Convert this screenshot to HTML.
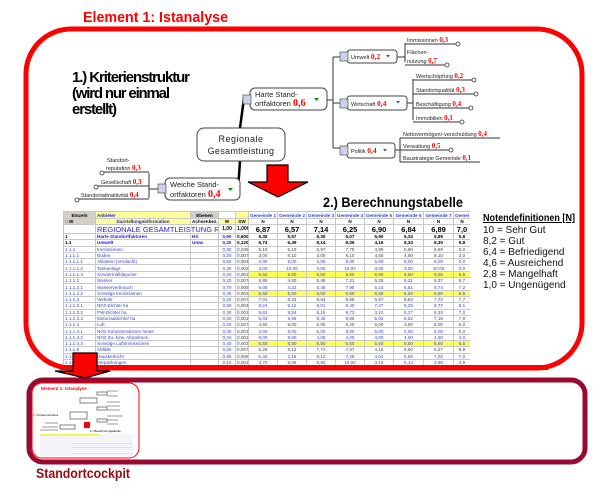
<!DOCTYPE html>
<html><head><meta charset="utf-8"><style>
html,body{margin:0;padding:0;background:#fff;width:610px;height:501px;overflow:hidden}
#wrap{position:relative;width:610px;height:501px}
svg{position:absolute;left:0;top:0}
#tbl{position:absolute;left:63px;top:211px;width:407px;height:154px;overflow:hidden}
table{border-collapse:collapse;table-layout:fixed;width:407px;font-family:"Liberation Sans",sans-serif;font-size:4.6px;line-height:5px}
td{border:0.5px solid #c8c8c8;padding:0 1px;height:5.3px;white-space:nowrap;overflow:hidden;color:#3344cc;text-align:center}
td.l{text-align:left}
tr.h1 td{height:6px}
tr.h2 td{height:5px}
tr.rg td{height:8px;font-size:7.5px;font-weight:bold;color:#000}
tr.b td{font-weight:bold;color:#000}
tr.b td.l,tr.rg td.l{color:#22c}
tr.y td.g{background:#ffff55}
td.g{border-left:1px solid #666}
.gy{background:#d4d0c8;color:#000}
.yl{background:#ffff99}
</style></head><body><div id="wrap">
<svg width="610" height="501" viewBox="0 0 610 501" font-family="Liberation Sans, sans-serif">
<rect x="26" y="29" width="556" height="339" rx="45" fill="#fff" stroke="#ff0000" stroke-width="5"/>
<text x="83" y="22" font-size="15" font-weight="bold" fill="#ff0000" textLength="145" lengthAdjust="spacingAndGlyphs">Element 1: Istanalyse</text>
<text font-size="15" font-weight="bold" fill="#000" lengthAdjust="spacingAndGlyphs">
<tspan x="72" y="82" textLength="118">1.) Kriterienstruktur</tspan>
<tspan x="72" y="98" textLength="98">(wird nur einmal</tspan>
<tspan x="72" y="114" textLength="45">erstellt)</tspan></text>
<text x="323" y="207" font-size="14" font-weight="bold" fill="#000" textLength="140" lengthAdjust="spacingAndGlyphs">2.) Berechnungstabelle</text>

<g stroke="#000" fill="none">
<line x1="240" y1="128" x2="244" y2="98" stroke-width="2.5"/>
<line x1="240" y1="161" x2="238" y2="190" stroke-width="2.5"/>
<g stroke-width="1" stroke="#333">
<path d="M327 100 H333 M333 57 V148 M333 57 H340 M333 103 H340 M333 148 H340"/>
<path d="M397 57 H405 M405 43 V62 M405 44 H458 M405 65 H447"/>
<path d="M407 103 H413 M413 79 V120 M413 80 H474 M413 94 H476 M413 108 H471 M413 122 H462"/>
<path d="M395 150 H400 M400 138 V162 M400 138 H500 M400 150 H451 M400 162 H480"/>
<path d="M158 189 H149 M149 173 V198 M149 172 H102 M149 186 H96 M149 199 H77"/>
</g></g>
<g fill="#fff" stroke="#333" stroke-width="0.8">
<circle cx="458" cy="44" r="2"/><circle cx="447" cy="65" r="2"/>
<circle cx="474" cy="80" r="2"/><circle cx="476" cy="94" r="2"/><circle cx="471" cy="108" r="2"/><circle cx="462" cy="122" r="2"/>
<circle cx="451" cy="150" r="2"/>
<circle cx="102" cy="173" r="2"/><circle cx="96" cy="187" r="2"/><circle cx="77" cy="200" r="2"/>
</g>
<g fill="#fff" stroke="#444" stroke-width="1">
<rect x="197" y="128" width="88" height="33" rx="7"/>
<rect x="250" y="88" width="77" height="22" rx="5"/>
<rect x="165" y="178" width="75" height="22" rx="5"/>
<rect x="347" y="50" width="50" height="13" rx="3"/>
<rect x="347" y="96" width="60" height="14" rx="3"/>
<rect x="347" y="143" width="48" height="15" rx="3"/>
</g>
<g fill="#c8d4e8" stroke="#555" stroke-width="0.7">
<rect x="243" y="95" width="8" height="9"/><rect x="158" y="184" width="8" height="9"/>
<rect x="340" y="52" width="8" height="9"/><rect x="340" y="99" width="8" height="9"/><rect x="340" y="146" width="8" height="9"/>
</g>
<g fill="#118811">
<path d="M314 98 h5 l-2.5 3z"/><path d="M228 188 h5 l-2.5 3z"/>
<path d="M386 55 h4 l-2 2.5z"/><path d="M396 101 h4 l-2 2.5z"/><path d="M383 149 h4 l-2 2.5z"/>
</g>
<text x="241" y="142" font-size="9" text-anchor="middle" fill="#222" letter-spacing="0.5">Regionale</text>
<text x="241" y="154" font-size="9" text-anchor="middle" fill="#222" letter-spacing="0.3">Gesamtleistung</text>
<g font-size="7.5" fill="#222">
<text x="255" y="97">Harte Stand-</text><text x="255" y="106">ortfaktoren <tspan font-family="Liberation Serif,serif" font-weight="bold" fill="#ff0000" font-size="10">0,6</tspan></text>
<text x="170" y="187">Weiche Stand-</text><text x="170" y="197">ortfaktoren <tspan font-family="Liberation Serif,serif" font-weight="bold" fill="#ff0000" font-size="10">0,4</tspan></text>
</g>
<g font-size="5.5" fill="#222">
<text x="351" y="59">Umwelt <tspan font-family="Liberation Serif,serif" font-weight="bold" fill="#f00" font-size="7.5">0,2</tspan></text>
<text x="351" y="106">Wirtschaft <tspan font-family="Liberation Serif,serif" font-weight="bold" fill="#f00" font-size="7.5">0,4</tspan></text>
<text x="351" y="153">Politik <tspan font-family="Liberation Serif,serif" font-weight="bold" fill="#f00" font-size="7.5">0,4</tspan></text>
<text x="407" y="42">Immissionen <tspan font-family="Liberation Serif,serif" font-weight="bold" fill="#f00" font-size="7">0,3</tspan></text>
<text x="407" y="54">Flächen-</text>
<text x="407" y="63">nutzung <tspan font-family="Liberation Serif,serif" font-weight="bold" fill="#f00" font-size="7">0,7</tspan></text>
<text x="416" y="78">Wertschöpfung <tspan font-family="Liberation Serif,serif" font-weight="bold" fill="#f00" font-size="7">0,2</tspan></text>
<text x="416" y="92">Standortqualität <tspan font-family="Liberation Serif,serif" font-weight="bold" fill="#f00" font-size="7">0,3</tspan></text>
<text x="416" y="106">Beschäftigung <tspan font-family="Liberation Serif,serif" font-weight="bold" fill="#f00" font-size="7">0,4</tspan></text>
<text x="416" y="120">Immobilien <tspan font-family="Liberation Serif,serif" font-weight="bold" fill="#f00" font-size="7">0,1</tspan></text>
<text x="403" y="136">Nettovermögen/-verschuldung <tspan font-family="Liberation Serif,serif" font-weight="bold" fill="#f00" font-size="7">0,4</tspan></text>
<text x="403" y="148">Verwaltung <tspan font-family="Liberation Serif,serif" font-weight="bold" fill="#f00" font-size="7">0,5</tspan></text>
<text x="403" y="160">Baustrategie Gemeinde <tspan font-family="Liberation Serif,serif" font-weight="bold" fill="#f00" font-size="7">0,1</tspan></text>
<text x="107" y="162">Standort-</text>
<text x="106" y="170">reputation <tspan font-family="Liberation Serif,serif" font-weight="bold" fill="#f00" font-size="7">0,3</tspan></text>
<text x="101" y="184">Gesellschaft <tspan font-family="Liberation Serif,serif" font-weight="bold" fill="#f00" font-size="7">0,3</tspan></text>
<text x="81" y="197">Standortattraktivität <tspan font-family="Liberation Serif,serif" font-weight="bold" fill="#f00" font-size="7">0,4</tspan></text>
</g>
<path d="M267 165 H288 V182 H308 L278 197 L248 182 H267 Z" fill="#ff0000" stroke="#000" stroke-width="1.2"/>

<text x="483" y="221" font-size="10" font-weight="bold" fill="#000" text-decoration="underline" textLength="92" lengthAdjust="spacingAndGlyphs">Notendefinitionen [N]</text>
<g font-size="10" fill="#111">
<text x="483" y="233">10  = Sehr Gut</text>
<text x="483" y="244">8,2 = Gut</text>
<text x="483" y="255">6,4 = Befriedigend</text>
<text x="483" y="266">4,6 = Ausreichend</text>
<text x="483" y="277">2,8 = Mangelhaft</text>
<text x="483" y="288">1,0 = Ungenügend</text>
</g>

<rect x="29" y="380" width="556" height="82" rx="14" fill="#fff" stroke="#990a30" stroke-width="5"/>
<text x="36" y="478" font-size="14" font-weight="bold" fill="#990a10" textLength="94" lengthAdjust="spacingAndGlyphs">Standortcockpit</text>
<rect x="32" y="383" width="107" height="75" rx="10" fill="#fff" stroke="#ff0000" stroke-width="1"/>
<text x="41" y="390" font-size="4.5" font-weight="bold" fill="#f00">Element 1: Istanalyse</text>
<text x="33" y="416" font-size="3" fill="#000">1.) Kriterienstruktur</text>
<text x="90" y="432" font-size="3" fill="#000">2.) Berechnungstabelle</text>
<g fill="#fff" stroke="#333" stroke-width="0.6">
<rect x="70" y="412" width="17" height="7"/><rect x="80" y="398" width="17" height="5"/><rect x="60" y="425" width="15" height="4"/>
<rect x="97" y="392" width="10" height="3"/><rect x="97" y="407" width="10" height="3"/><rect x="97" y="419" width="10" height="3"/>
</g>
<path d="M107 391 H118 M107 396 H118 M107 402 H120 M107 406 H120 M107 410 H120 M107 416 H123 M107 420 H118 M107 424 H118 M45 423 H58 M42 427 H58 M40 430 H58" stroke="#333" stroke-width="0.5"/>
<rect x="84" y="422" width="6" height="6" fill="#f00"/>
<rect x="40" y="434" width="93" height="22" fill="#f4f4fa"/>
<rect x="40" y="434" width="60" height="1.5" fill="#ee5"/>
<rect x="72" y="443" width="61" height="1" fill="#ff0"/><rect x="72" y="447" width="61" height="1" fill="#ff0"/><rect x="72" y="453" width="61" height="1" fill="#ff0"/>
</svg>

<div id="tbl"><table>
<colgroup><col style="width:32px"><col style="width:95px"><col style="width:28px"><col style="width:17px"><col style="width:13px"><col style="width:29px"><col style="width:29px"><col style="width:29px"><col style="width:29px"><col style="width:29px"><col style="width:30px"><col style="width:30px"><col style="width:17px"></colgroup>
<tr class="h1" style="font-weight:bold"><td class="gy">Einzeln</td><td class="l yl" style="color:#22c">Anbieter</td><td class="gy">Ebenen</td><td></td><td class="yl"></td><td class="g">Gemeinde 1</td><td class="g">Gemeinde 2</td><td class="g">Gemeinde 3</td><td class="g">Gemeinde 4</td><td class="g">Gemeinde 5</td><td class="g">Gemeinde 6</td><td class="g">Gemeinde 7</td><td class="g">Gemei</td></tr>
<tr class="h2" style="font-weight:bold"><td class="gy l">&#9633; W</td><td class="yl" style="color:#22c">Darstellungsinformation</td><td style="color:#000">Achsenbez.</td><td class="yl" style="color:#000">W</td><td class="yl" style="color:#000">SW</td><td class="g" style="color:#000">N</td><td class="g" style="color:#000">N</td><td class="g" style="color:#000">N</td><td class="g" style="color:#000">N</td><td class="g" style="color:#000">N</td><td class="g" style="color:#000">N</td><td class="g" style="color:#000">N</td><td class="g" style="color:#000">N</td></tr>
<tr class="rg"><td></td><td class="l" colspan="2" style="font-weight:normal">REGIONALE GESAMTLEISTUNG RG</td><td style="font-size:5px">1,00</td><td style="font-size:5px">1,000</td><td class="g">6,87</td><td class="g">6,57</td><td class="g">7,14</td><td class="g">6,25</td><td class="g">6,90</td><td class="g">6,84</td><td class="g">6,89</td><td class="g">7,0</td></tr>
<tr class="b"><td class="l" style="color:#000">1</td><td class="l">Harte Standortfaktoren</td><td class="l" style="color:#22c">HS</td><td style="color:#22c">0,60</td><td>0,600</td><td class="g">6,35</td><td class="g">5,57</td><td class="g">6,30</td><td class="g">5,07</td><td class="g">5,90</td><td class="g">6,34</td><td class="g">5,89</td><td class="g">5,8</td></tr>
<tr class="b"><td class="l" style="color:#000">1.1</td><td class="l">Umwelt</td><td class="l" style="color:#22c">Umw</td><td style="color:#22c">0,20</td><td>0,120</td><td class="g">6,74</td><td class="g">6,49</td><td class="g">8,14</td><td class="g">8,05</td><td class="g">4,16</td><td class="g">8,34</td><td class="g">6,30</td><td class="g">5,8</td></tr>
<tr><td class="l">1.1.1</td><td class="l">Immissionen</td><td></td><td>0,30</td><td style="color:#444">0,036</td><td class="g" style="color:#444">5,15</td><td class="g" style="color:#444">6,19</td><td class="g" style="color:#444">5,97</td><td class="g" style="color:#444">7,75</td><td class="g" style="color:#444">4,89</td><td class="g" style="color:#444">5,90</td><td class="g" style="color:#444">6,69</td><td class="g" style="color:#444">5,0</td></tr>
<tr><td class="l">1.1.1.1</td><td class="l">Boden</td><td></td><td>0,20</td><td style="color:#444">0,007</td><td class="g" style="color:#444">3,00</td><td class="g" style="color:#444">8,10</td><td class="g" style="color:#444">3,00</td><td class="g" style="color:#444">8,10</td><td class="g" style="color:#444">4,50</td><td class="g" style="color:#444">4,50</td><td class="g" style="color:#444">8,10</td><td class="g" style="color:#444">3,0</td></tr>
<tr><td class="l">1.1.1.1.1</td><td class="l">Altlasten (Verdacht)</td><td></td><td>0,50</td><td style="color:#444">0,004</td><td class="g">2,00</td><td class="g">8,00</td><td class="g">2,00</td><td class="g">8,00</td><td class="g">5,00</td><td class="g">5,00</td><td class="g">8,00</td><td class="g">2,0</td></tr>
<tr><td class="l">1.1.1.1.2</td><td class="l">Tankanlage</td><td></td><td>0,30</td><td style="color:#444">0,002</td><td class="g">3,00</td><td class="g">10,00</td><td class="g">3,00</td><td class="g">10,00</td><td class="g">3,00</td><td class="g">3,00</td><td class="g">10,00</td><td class="g">3,0</td></tr>
<tr class="y"><td class="l">1.1.1.1.3</td><td class="l">Sondermülldeponie</td><td></td><td>0,20</td><td style="color:#444">0,001</td><td class="g">5,50</td><td class="g">5,50</td><td class="g">5,50</td><td class="g">5,50</td><td class="g">5,50</td><td class="g">5,50</td><td class="g">5,50</td><td class="g">5,5</td></tr>
<tr><td class="l">1.1.1.2</td><td class="l">Wasser</td><td></td><td>0,20</td><td style="color:#444">0,007</td><td class="g" style="color:#444">5,85</td><td class="g" style="color:#444">4,60</td><td class="g" style="color:#444">5,49</td><td class="g" style="color:#444">7,21</td><td class="g" style="color:#444">5,25</td><td class="g" style="color:#444">6,21</td><td class="g" style="color:#444">6,37</td><td class="g" style="color:#444">6,7</td></tr>
<tr><td class="l">1.1.1.2.1</td><td class="l">Wasserverbrauch</td><td></td><td>0,70</td><td style="color:#444">0,005</td><td class="g">6,00</td><td class="g">4,22</td><td class="g">5,48</td><td class="g">7,95</td><td class="g">5,14</td><td class="g">6,51</td><td class="g">6,74</td><td class="g">7,2</td></tr>
<tr class="y"><td class="l">1.1.1.2.2</td><td class="l">Sonstige Immissionen</td><td></td><td>0,30</td><td style="color:#444">0,002</td><td class="g">5,50</td><td class="g">5,50</td><td class="g">5,50</td><td class="g">5,50</td><td class="g">5,50</td><td class="g">5,50</td><td class="g">5,50</td><td class="g">5,5</td></tr>
<tr><td class="l">1.1.1.3</td><td class="l">Verkehr</td><td></td><td>0,20</td><td style="color:#444">0,007</td><td class="g" style="color:#444">7,01</td><td class="g" style="color:#444">9,33</td><td class="g" style="color:#444">8,64</td><td class="g" style="color:#444">9,55</td><td class="g" style="color:#444">5,57</td><td class="g" style="color:#444">8,83</td><td class="g" style="color:#444">7,72</td><td class="g" style="color:#444">7,7</td></tr>
<tr><td class="l">1.1.1.3.1</td><td class="l">NFZ-Dichte/ ha</td><td></td><td>0,50</td><td style="color:#444">0,004</td><td class="g">8,24</td><td class="g">9,12</td><td class="g">9,01</td><td class="g">9,40</td><td class="g">7,27</td><td class="g">9,29</td><td class="g">8,77</td><td class="g">8,1</td></tr>
<tr><td class="l">1.1.1.3.2</td><td class="l">PW-Dichte/ ha</td><td></td><td>0,30</td><td style="color:#444">0,002</td><td class="g">5,62</td><td class="g">9,54</td><td class="g">8,15</td><td class="g">9,73</td><td class="g">3,10</td><td class="g">8,27</td><td class="g">6,33</td><td class="g">7,0</td></tr>
<tr><td class="l">1.1.1.3.3</td><td class="l">Motorraddichte/ ha</td><td></td><td>0,20</td><td style="color:#444">0,001</td><td class="g">6,03</td><td class="g">9,56</td><td class="g">8,45</td><td class="g">9,65</td><td class="g">5,02</td><td class="g">8,52</td><td class="g">7,18</td><td class="g">7,9</td></tr>
<tr><td class="l">1.1.1.4</td><td class="l">Luft</td><td></td><td>0,20</td><td style="color:#444">0,007</td><td class="g" style="color:#444">4,60</td><td class="g" style="color:#444">5,00</td><td class="g" style="color:#444">5,00</td><td class="g" style="color:#444">6,20</td><td class="g" style="color:#444">5,00</td><td class="g" style="color:#444">3,00</td><td class="g" style="color:#444">5,00</td><td class="g" style="color:#444">5,0</td></tr>
<tr><td class="l">1.1.1.4.1</td><td class="l">NO2 Konzentrationen heute</td><td></td><td>0,40</td><td style="color:#444">0,003</td><td class="g">2,00</td><td class="g">5,00</td><td class="g">5,00</td><td class="g">8,00</td><td class="g">5,00</td><td class="g">2,00</td><td class="g">5,00</td><td class="g">5,0</td></tr>
<tr><td class="l">1.1.1.4.2</td><td class="l">NO2 Zu- bzw. Abnahmen</td><td></td><td>0,20</td><td style="color:#444">0,001</td><td class="g">8,00</td><td class="g">8,00</td><td class="g">4,00</td><td class="g">4,00</td><td class="g">4,00</td><td class="g">4,00</td><td class="g">4,00</td><td class="g">4,0</td></tr>
<tr class="y"><td class="l">1.1.1.4.3</td><td class="l">Sonstige Luftimmissionen</td><td></td><td>0,40</td><td style="color:#444">0,003</td><td class="g">5,50</td><td class="g">5,50</td><td class="g">5,50</td><td class="g">5,50</td><td class="g">5,50</td><td class="g">5,50</td><td class="g">5,50</td><td class="g">5,5</td></tr>
<tr><td class="l">1.1.1.5</td><td class="l">Abfälle</td><td></td><td>0,20</td><td style="color:#444">0,007</td><td class="g" style="color:#444">5,28</td><td class="g" style="color:#444">3,12</td><td class="g" style="color:#444">7,71</td><td class="g" style="color:#444">7,67</td><td class="g" style="color:#444">4,16</td><td class="g" style="color:#444">6,50</td><td class="g" style="color:#444">6,27</td><td class="g" style="color:#444">6,9</td></tr>
<tr><td class="l">1.1.1.5.1</td><td class="l">Hauskehricht</td><td></td><td>0,80</td><td style="color:#444">0,006</td><td class="g">5,32</td><td class="g">2,18</td><td class="g">8,12</td><td class="g">7,25</td><td class="g">4,01</td><td class="g">6,84</td><td class="g">7,02</td><td class="g">7,0</td></tr>
<tr><td class="l">1.1.1.5.2</td><td class="l">Verpackungen</td><td></td><td>0,10</td><td style="color:#444">0,001</td><td class="g">3,70</td><td class="g">5,06</td><td class="g">5,60</td><td class="g">10,00</td><td class="g">3,16</td><td class="g">5,14</td><td class="g">3,90</td><td class="g">4,9</td></tr>
</table></div>
<svg width="610" height="501" style="pointer-events:none"><line x1="60" y1="367.5" x2="548" y2="367.5" stroke="#ff0000" stroke-width="5"/><path d="M73 353 H97 V371 H110 L85 378 L55 371 H73 Z" fill="#ff0000" stroke="#000" stroke-width="1.2"/></svg>
</div></body></html>
